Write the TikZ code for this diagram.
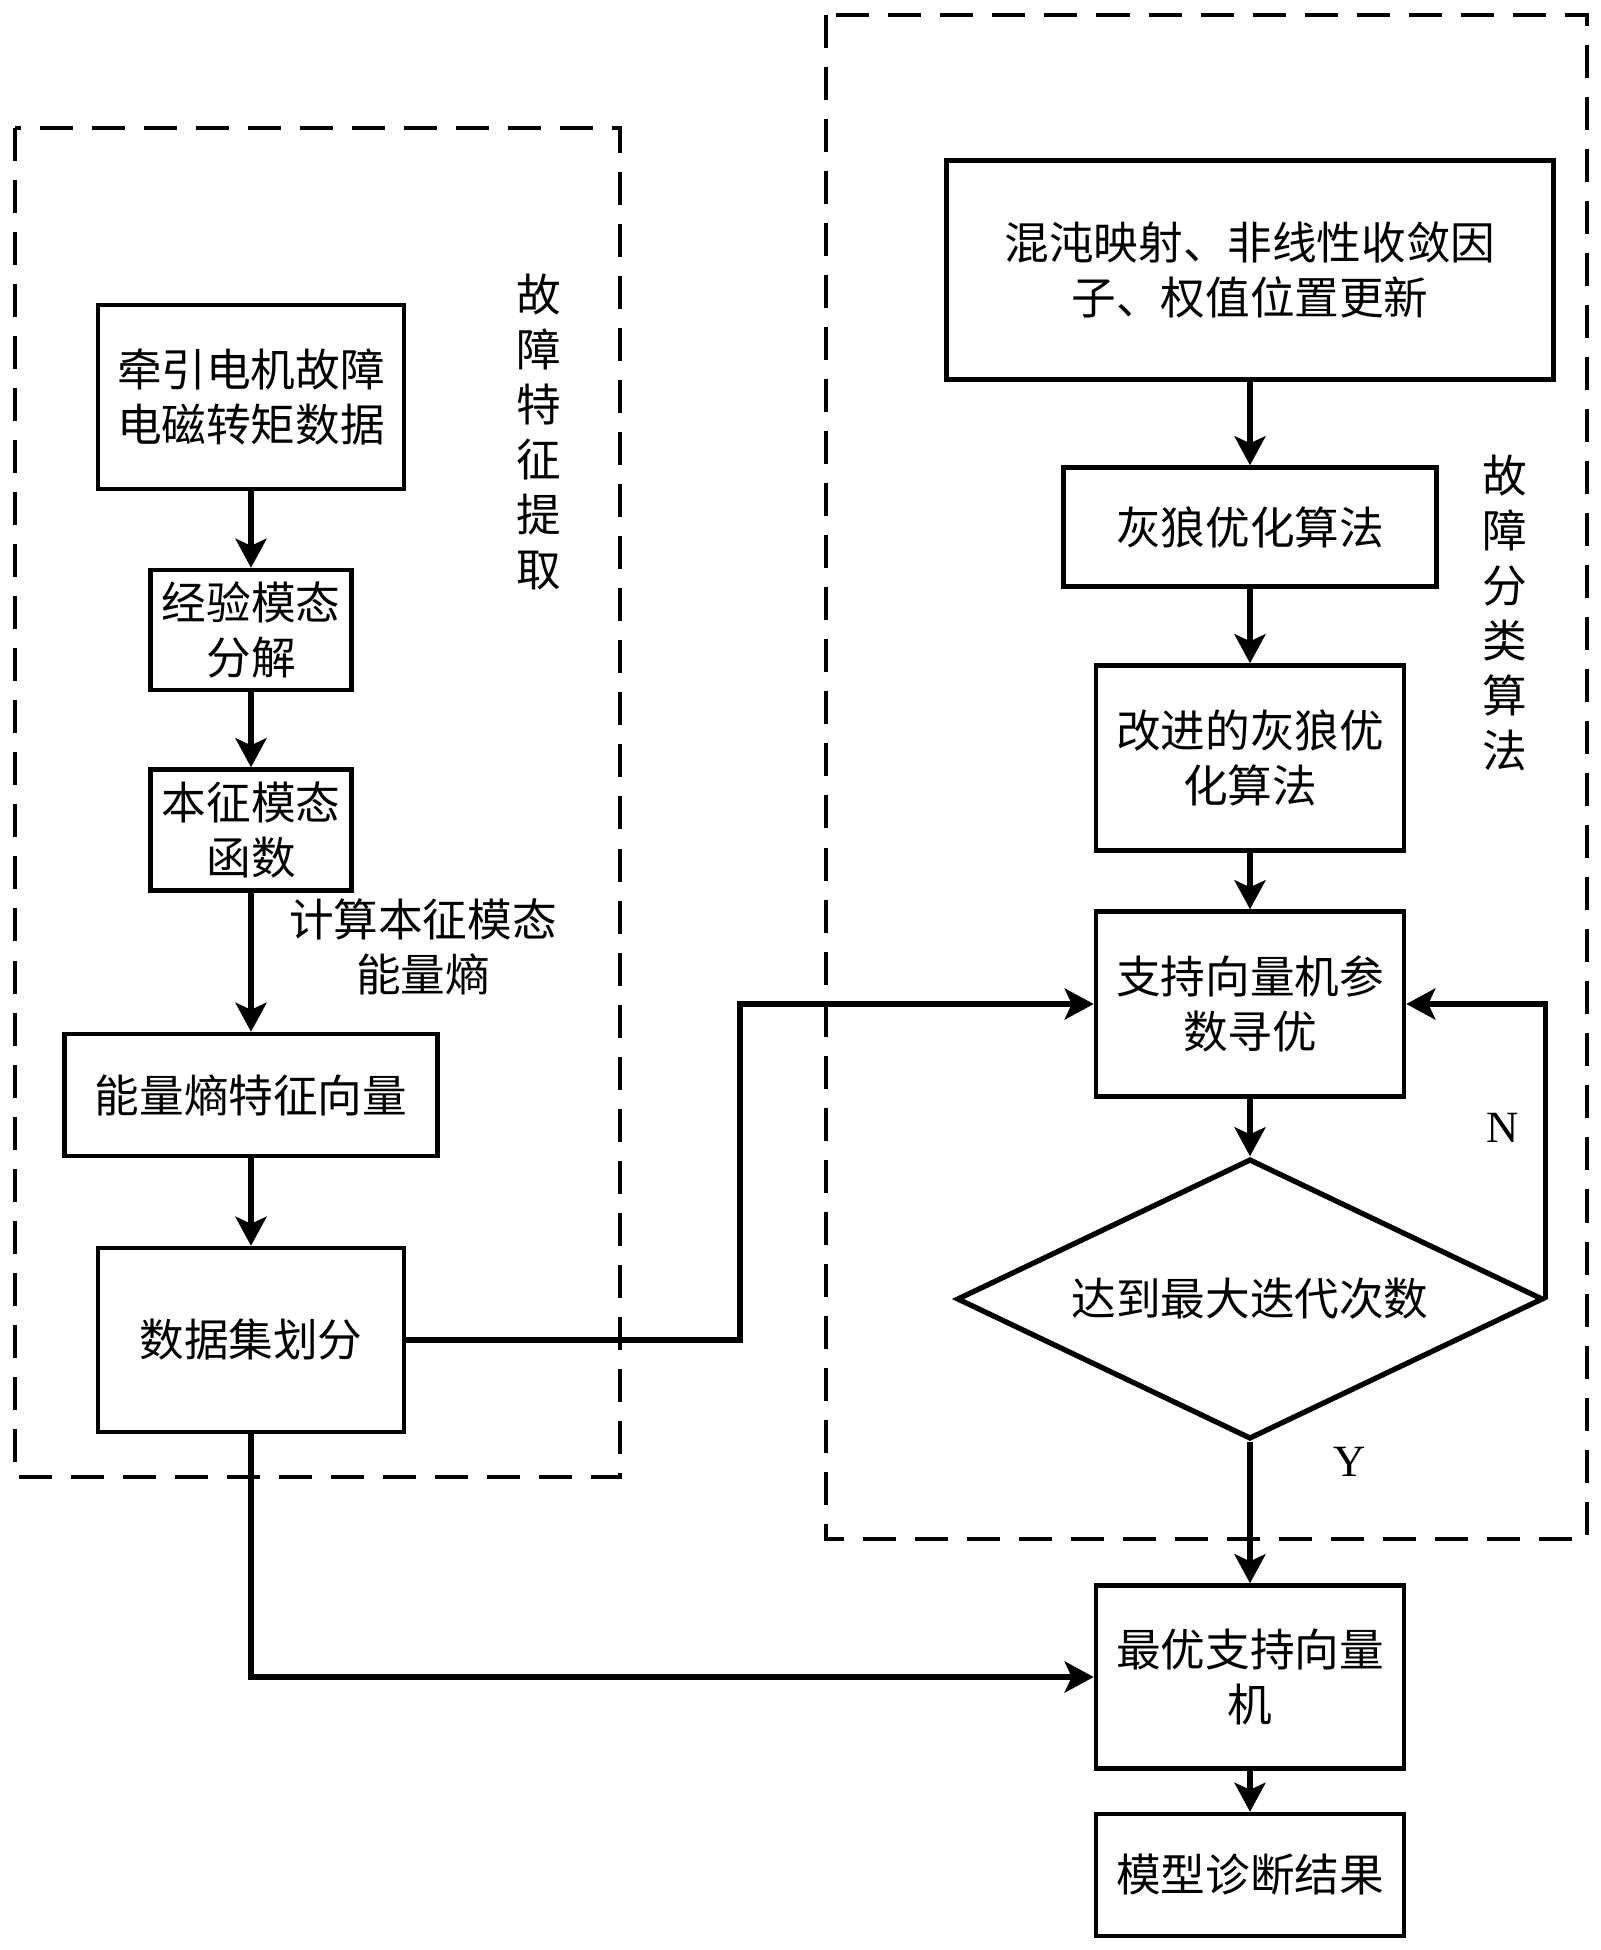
\documentclass[tikz,border=0pt]{standalone}
\usepackage{fontspec}
\setmainfont{Liberation Serif}
\newfontfamily\cjk{Noto Sans CJK SC}
\usetikzlibrary{arrows.meta,shapes.geometric}

\tikzset{
  blk/.style={draw, line width=1.25pt, align=center, inner sep=0pt, font=\cjk\fontsize{12.7}{15.6}\selectfont},
  lbl/.style={align=center, inner sep=0pt, font=\cjk\fontsize{12.7}{15.6}\selectfont},
  flow/.style={line width=1.5pt, -{Stealth[length=0.29cm,width=0.31cm,inset=0.07cm]}},
  frame/.style={line width=1.1pt, dash pattern=on 0.33cm off 0.19cm},
}

\begin{document}
\begin{tikzpicture}[x=0.01cm, y=-0.01cm]
        \useasboundingbox (0,0) rectangle (1601,1950);
        % Dashed frames
        \draw[frame] (15,128) rectangle (620,1477);
        \draw[frame] (826,15) rectangle (1587,1539);
        \node[lbl] (featlbl) at (539,432) {故\\障\\特\\征\\提\\取};
        \node[lbl] (clslbl) at (1505,613) {故\\障\\分\\类\\算\\法};
        % Feature extraction
        \node[blk, minimum width=3.06cm, minimum height=1.84cm] (raw) at (251,397) {牵引电机故障\\电磁转矩数据};
        \node[blk, minimum width=2.01cm, minimum height=1.2cm] (emd) at (251,630) {经验模态\\分解};
        \node[blk, minimum width=2.01cm, minimum height=1.21cm] (imf) at (251,830) {本征模态\\函数};
        \node[blk, minimum width=3.73cm, minimum height=1.22cm] (vec) at (251,1095) {能量熵特征向量};
        \node[blk, minimum width=3.06cm, minimum height=1.84cm] (split) at (251,1340) {数据集划分};
        \node[lbl] (entlbl) at (423,947) {计算本征模态\\能量熵};
        % Classification
        \node[blk, minimum width=6.07cm, minimum height=2.19cm] (upd) at (1250,270) {混沌映射、非线性收敛因\\子、权值位置更新};
        \node[blk, minimum width=3.73cm, minimum height=1.19cm] (gwo) at (1250,527) {灰狼优化算法};
        \node[blk, minimum width=3.08cm, minimum height=1.85cm] (igwo) at (1250,758) {改进的灰狼优\\化算法};
        \node[blk, minimum width=3.08cm, minimum height=1.85cm] (svm) at (1250,1004) {支持向量机参\\数寻优};
        \node[blk, shape=diamond, aspect=2.09, line width=1.5pt, minimum width=5.86cm, minimum height=2.8cm] (iter) at (1250,1299) {达到最大迭代次数};
        \node[blk, minimum width=3.08cm, minimum height=1.83cm] (best) at (1250,1677) {最优支持向量\\机};
        \node[blk, minimum width=3.08cm, minimum height=1.22cm] (res) at (1250,1875) {模型诊断结果};
        \node[font=\fontsize{12.7}{15.6}\selectfont] (no) at (1503,1128) {N};
        \node[font=\fontsize{12.7}{15.6}\selectfont] (yes) at (1350,1462) {Y};
        % Connectors
        \draw[flow] (raw) -- (emd);
        \draw[flow] (emd) -- (imf);
        \draw[flow] (imf) -- (vec);
        \draw[flow] (vec) -- (split);
        \draw[flow] (upd) -- (gwo);
        \draw[flow] (gwo) -- (igwo);
        \draw[flow] (igwo) -- (svm);
        \draw[flow] (svm) -- (iter);
        \draw[flow] (iter) -- (best);
        \draw[flow] (best) -- (res);
        \coordinate (turn) at (740,1340);
        \draw[flow] (split.east) -- (turn) |- (svm.west);
        \draw[flow] (split.south) |- (best.west);
        \draw[flow] (iter.east) |- (svm.east);
    \end{tikzpicture}
\end{document}
